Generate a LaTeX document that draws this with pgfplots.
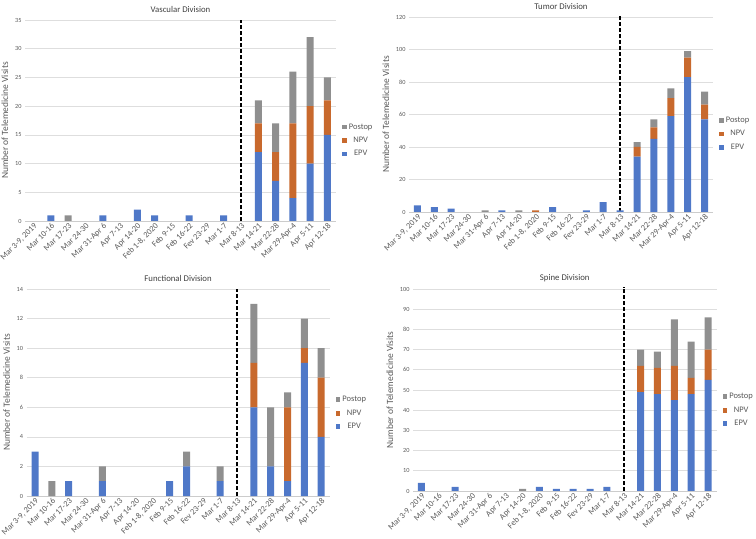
\documentclass[border=0pt]{standalone}
\usepackage{pgfplots}
\pgfplotsset{compat=1.18}
\usepackage{pgfplotstable}
\usepackage{fontspec}
\setmainfont{Carlito}
\definecolor{epv}{HTML}{4F78C8}
\definecolor{npv}{HTML}{C8692D}
\definecolor{pst}{HTML}{8F8F8F}
\definecolor{txt}{HTML}{595959}

\pgfplotstableread{
x EPV NPV Postop
0 0 0 0
1 1 0 0
2 0 0 1
3 0 0 0
4 1 0 0
5 0 0 0
6 2 0 0
7 1 0 0
8 0 0 0
9 1 0 0
10 0 0 0
11 1 0 0
12 0 0 0
13 12 5 4
14 7 5 5
15 4 13 9
16 10 10 12
17 15 6 4
}\vascular

\pgfplotstableread{
x EPV NPV Postop
0 4 0 0
1 3 0 0
2 2 0 0
3 0 0 0
4 0 0 1
5 1 0 0
6 0 0 1
7 0 1 0
8 3 0 0
9 0 0 0
10 1 0 0
11 6 0 0
12 1 0 0
13 34 6 3
14 45 7 5
15 59 11 6
16 83 12 4
17 57 9 8
}\tumor

\pgfplotstableread{
x EPV NPV Postop
0 3 0 0
1 0 0 1
2 1 0 0
3 0 0 0
4 1 0 1
5 0 0 0
6 0 0 0
7 0 0 0
8 1 0 0
9 2 0 1
10 0 0 0
11 1 0 1
12 0 0 0
13 6 3 4
14 2 0 4
15 1 5 1
16 9 1 2
17 4 4 2
}\functional

\pgfplotstableread{
x EPV NPV Postop
0 4 0 0
1 0 0 0
2 2 0 0
3 0 0 0
4 0 0 0
5 0 0 0
6 0 0 1
7 2 0 0
8 1 0 0
9 1 0 0
10 1 0 0
11 2 0 0
12 0 0 0
13 49 13 8
14 48 13 8
15 45 17 23
16 48 8 18
17 55 15 16
}\spine

\pgfplotsset{
  division/.style={
    anchor=south west, scale only axis,
    ybar stacked, bar width=7bp,
    xmin=-0.5, xmax=17.5, ymin=0,
    xtick={0,...,17},
    xticklabels={{Mar 3-9, 2019},Mar 10-16,Mar 17-23,Mar 24-30,Mar 31-Apr 6,Apr 7-13,Apr 14-20,{Feb 1-8, 2020},Feb 9-15,Feb 16-22,Fev 23-29,Mar 1-7,Mar 8-13,Mar 14-21,Mar 22-28,Mar 29-Apr-4,Apr 5-11,Apr 12-18},
    x tick label style={rotate=45, anchor=north east, font=\fontsize{8.4}{9}\selectfont, text=txt, inner sep=1pt},
    y tick label style={font=\fontsize{6.3}{7}\selectfont, text=txt},
    /pgf/number format/assume math mode=true,
    ymajorgrids, grid style={draw=black!13, line width=0.6bp},
    axis x line*=bottom, axis y line*=left,
    x axis line style={draw=black!20, line width=0.6bp},
    y axis line style={draw=none},
    major tick length=0pt,
    ylabel={Number of Telemedicine Visits},
    ylabel style={font=\fontsize{9.5}{10}\selectfont, text=txt},
    title style={font=\fontsize{8.8}{10}\selectfont, text=black!75, yshift=-2bp},
    clip=false,
    legend style={at={(1.01,0.4)}, anchor=west, draw=none, fill=none,
      font=\fontsize{8.5}{10}\selectfont, text=txt, row sep=2.5bp,
      /tikz/every even column/.append style={column sep=1bp}},
    reverse legend,
    legend image code/.code={\fill[##1] (0bp,-2.3bp) rectangle (4.6bp,2.3bp);},
  },
  every axis plot/.append style={draw=none},
}

\newcommand{\divbars}[1]{%
  \addplot[fill=epv] table[x=x,y=EPV]{#1};
  \addplot[fill=npv] table[x=x,y=NPV]{#1};
  \addplot[fill=pst] table[x=x,y=Postop]{#1};
  \legend{EPV,NPV,Postop}
}

\begin{document}
\begin{tikzpicture}
\useasboundingbox (0,0) rectangle (756bp,539bp);

% Vascular
\begin{axis}[division, at={(25bp,318bp)}, width=311bp, height=201bp,
  ymax=35, ytick={0,5,...,35}, title={Vascular Division}]
\divbars{\vascular}
\draw[black, line width=1.5bp, dash pattern=on 3.8bp off 2.2bp] (axis cs:12,0) -- (axis cs:12,35);
\end{axis}

% Tumor
\begin{axis}[division, at={(409bp,327bp)}, width=304bp, height=195bp,
  ymax=120, ytick={0,20,...,120}, title={Tumor Division}]
\divbars{\tumor}
\draw[black, line width=1.5bp, dash pattern=on 3.8bp off 2.2bp] (axis cs:12,0) -- (axis cs:12,121);
\end{axis}

% Functional
\begin{axis}[division, at={(26.6bp,43bp)}, width=303bp, height=207bp,
  ymax=14, ytick={0,2,...,14}, title={Functional Division}]
\divbars{\functional}
\draw[black, line width=1.5bp, dash pattern=on 3.8bp off 2.2bp] (axis cs:12,0) -- (axis cs:12,14);
\end{axis}

% Spine
\begin{axis}[division, at={(413bp,48bp)}, width=303.5bp, height=202bp,
  ymax=100, ytick={0,10,...,100}, title={Spine Division}]
\divbars{\spine}
\draw[black, line width=1.5bp, dash pattern=on 3.8bp off 2.2bp] (axis cs:12,0) -- (axis cs:12,101);
\end{axis}
\end{tikzpicture}
\end{document}
